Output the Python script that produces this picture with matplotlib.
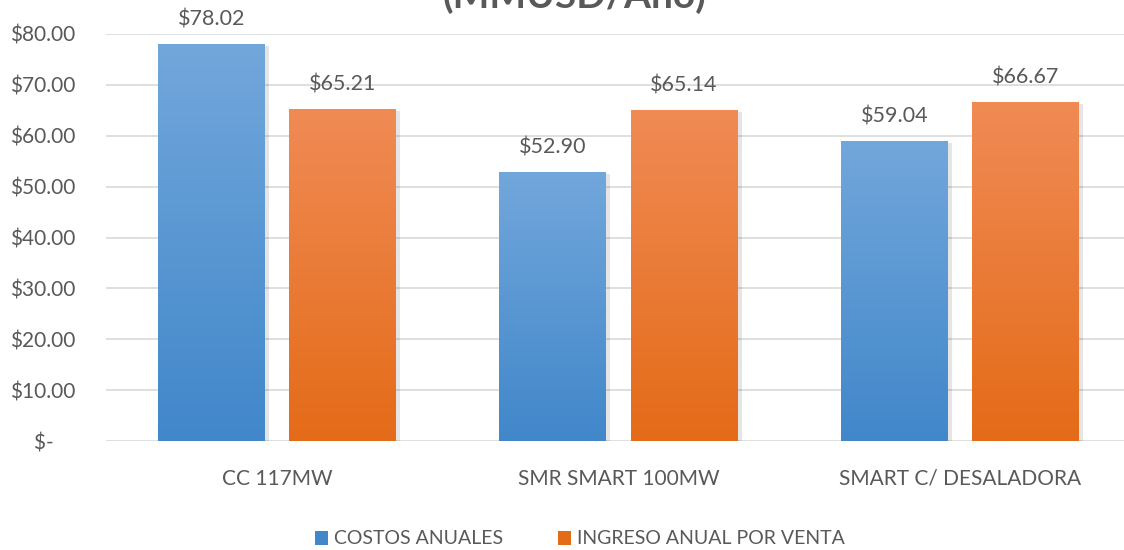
import matplotlib
matplotlib.use("Agg")
import matplotlib.pyplot as plt
import numpy as np
from matplotlib.patches import Patch

# data
categories = ["CC 117MW", "SMR SMART 100MW", "SMART C/ DESALADORA"]
costos = [78.02, 52.90, 59.04]
ingresos = [65.21, 65.14, 66.67]
series_names = ["COSTOS ANUALES", "INGRESO ANUAL POR VENTA"]
yticks = [0, 10, 20, 30, 40, 50, 60, 70, 80]

plt.rcParams['font.family'] = ['Lato', 'DejaVu Sans']
txt = '#595959'

fig = plt.figure(figsize=(11.24, 5.5), dpi=100)
ax = fig.add_axes([106 / 1124, 109 / 550, 1025 / 1124, 407 / 550])

x = np.arange(len(categories))
w = 0.313
off = 0.192

blue = ('#72a7db', '#4187ca')
orange = ('#f08b55', '#e46b18')


def grad_bars(xs, vals, cols):
    bars = ax.bar(xs, vals, w, color='none', zorder=3)
    cmap = matplotlib.colors.LinearSegmentedColormap.from_list('g', [cols[1], cols[0]])
    for b, v in zip(bars, vals):
        # soft shadow
        ax.bar(b.get_x() + b.get_width() / 2 + 0.012, v, w, bottom=-0.4,
               color='#000000', alpha=0.10, zorder=2, linewidth=0)
        im = ax.imshow(np.linspace(0, 1, 256).reshape(-1, 1), cmap=cmap, aspect='auto',
                       origin='lower', extent=(b.get_x(), b.get_x() + b.get_width(), 0, v),
                       zorder=3)
        im.set_clip_path(b)
        ax.text(b.get_x() + b.get_width() / 2, v + 2.8, f"${v:.2f}", ha='center',
                va='bottom', fontsize=15.5, color=txt)
    return bars


grad_bars(x - off, costos, blue)
grad_bars(x + off, ingresos, orange)

ax.set_xlim(-0.5, 2.5)
ax.set_ylim(0, 80)
ax.set_yticks(yticks)
ax.set_yticklabels(["$-    " if t == 0 else f"${t:.2f}" for t in yticks])
ax.set_xticks(x)
ax.set_xticklabels(categories)
ax.tick_params(axis='both', length=0, labelsize=15, colors=txt)
ax.tick_params(axis='x', pad=20)
ax.tick_params(axis='y', pad=22)
ax.yaxis.grid(True, color='#d9d9d9', linewidth=1.2, zorder=0)
ax.set_axisbelow(True)
for s in ax.spines.values():
    s.set_visible(False)

# title is clipped at the top of the image
fig.text(575 / 1124, 1 - 8 / 550, "(MMUSD/Año)", ha='center', va='baseline',
         fontsize=28, fontweight='bold', color=txt)

handles = [Patch(facecolor=blue[1]), Patch(facecolor=orange[1])]
fig.legend(handles, series_names, loc='center', bbox_to_anchor=(580 / 1124, 1 - 539 / 550),
           ncol=2, frameon=False, fontsize=14, labelcolor=txt, handlelength=0.7,
           handleheight=0.7, handletextpad=0.3, columnspacing=2.8)

fig.savefig("out.png", dpi=100)
